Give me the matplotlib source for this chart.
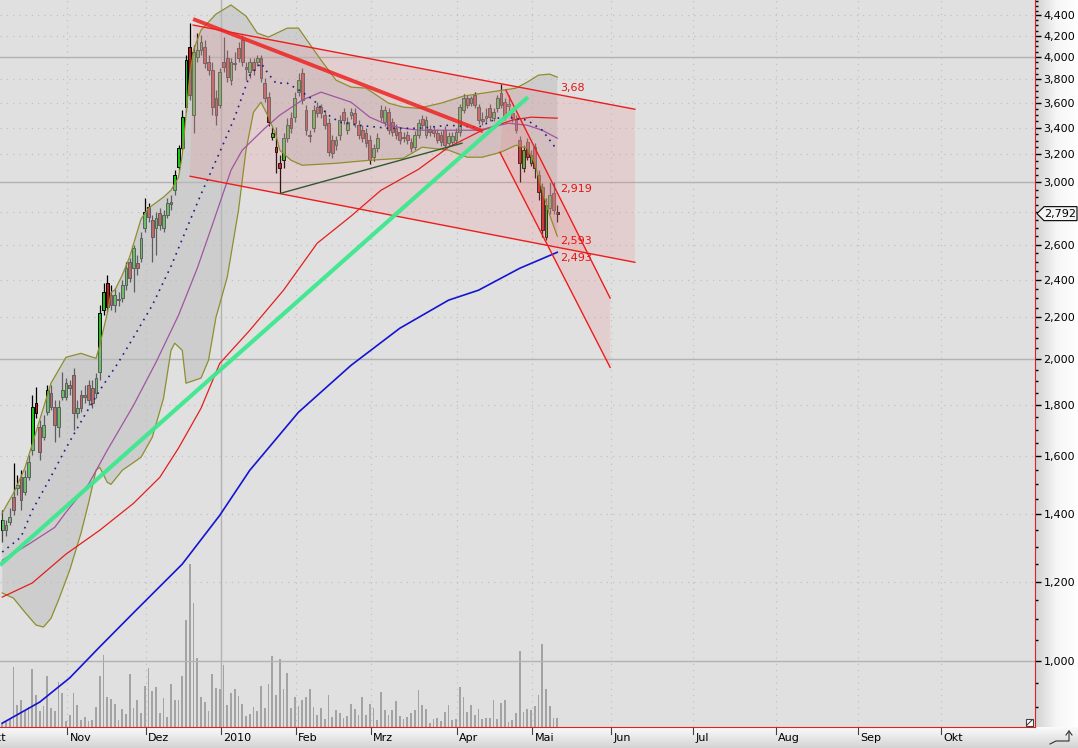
import numpy as np
import pandas as pd
import matplotlib
matplotlib.use("Agg")
import matplotlib.pyplot as plt
import matplotlib.transforms as mtransforms
from matplotlib.colors import LinearSegmentedColormap
from matplotlib.patches import Polygon, Rectangle
from matplotlib.ticker import FixedLocator, FuncFormatter, NullFormatter

# trading calendar, Xetra holidays taken out
holidays = ['2009-12-24', '2009-12-25', '2009-12-31', '2010-01-01', '2010-04-02', '2010-04-05']
first_day = '2009-10-08'
month_names = {2: 'Feb', 3: 'Mrz', 4: 'Apr', 5: 'Mai', 6: 'Jun', 7: 'Jul',
               8: 'Aug', 9: 'Sep', 10: 'Okt', 11: 'Nov', 12: 'Dez'}

# daily candles, 8 Oct 2009 .. 12 May 2010
opens = [1350, 1350, 1375, 1456, 1487, 1524, 1473, 1524, 1622, 1806,
         1710, 1671, 1770, 1848, 1790, 1710, 1832, 1832, 1883, 1927,
         1766, 1840, 1840, 1883, 1870, 1848, 1940, 2236, 2380, 2315,
         2262, 2289, 2299, 2369, 2497, 2463, 2492, 2520, 2700, 2834,
         2750, 2700, 2795, 2700, 2782, 2866, 2946, 3106, 3244, 3565,
         4092, 3500, 3999, 4064, 4092, 3954, 3881, 3640, 3581, 3954,
         3989, 3793, 3945, 4083, 4158, 3908, 3863, 3954, 3954, 3989,
         3767, 3648, 3328, 3252, 3134, 3156, 3320, 3476, 3484, 3690,
         3854, 3540, 3335, 3396, 3565, 3565, 3500, 3436, 3305, 3267,
         3343, 3524, 3381, 3500, 3516, 3420, 3381, 3358, 3305, 3178,
         3244, 3540, 3444, 3524, 3444, 3396, 3365, 3328, 3343, 3290,
         3252, 3343, 3468, 3343, 3389, 3381, 3358, 3343, 3381, 3282,
         3290, 3305, 3365, 3540, 3640, 3598, 3665, 3565, 3468, 3476,
         3556, 3476, 3556, 3682, 3606, 3573, 3516, 3460, 3305, 3098,
         3290, 3134, 3252, 3049, 2966, 2645, 2827, 2926, 2800]
highs = [1413, 1381, 1420, 1574, 1531, 1549, 1549, 1603, 1840, 1874,
         1738, 1758, 1883, 1883, 1819, 1819, 1940, 1914, 1905, 1957,
         1819, 1861, 1883, 1905, 1905, 1936, 2262, 2380, 2424, 2369,
         2353, 2331, 2396, 2497, 2520, 2597, 2538, 2676, 2893, 2859,
         2782, 2801, 2827, 2814, 2893, 2913, 3085, 3267, 3540, 4017,
         4324, 4111, 4226, 4206, 4158, 4017, 3954, 3707, 3899, 4187,
         4064, 3989, 4045, 4139, 4206, 3954, 3989, 3989, 4017, 4017,
         3811, 3690, 3404, 3404, 3193, 3358, 3476, 3524, 3690, 3854,
         3899, 3581, 3381, 3581, 3606, 3590, 3540, 3476, 3343, 3335,
         3500, 3556, 3484, 3556, 3556, 3460, 3420, 3396, 3343, 3275,
         3358, 3581, 3573, 3556, 3476, 3428, 3396, 3365, 3373, 3320,
         3373, 3468, 3500, 3492, 3420, 3412, 3389, 3373, 3412, 3365,
         3365, 3396, 3590, 3673, 3665, 3657, 3690, 3590, 3524, 3556,
         3590, 3556, 3665, 3758, 3640, 3665, 3556, 3500, 3335, 3267,
         3320, 3230, 3282, 3085, 2994, 2893, 3001, 3001, 2847]
lows = [1313, 1332, 1365, 1397, 1463, 1413, 1463, 1514, 1603, 1746,
        1585, 1660, 1758, 1778, 1652, 1671, 1819, 1819, 1840, 1698,
        1746, 1770, 1806, 1798, 1786, 1827, 1905, 2211, 2226, 2236,
        2226, 2257, 2278, 2342, 2385, 2331, 2424, 2497, 2676, 2737,
        2497, 2538, 2688, 2676, 2763, 2814, 2913, 3085, 3230, 3524,
        3623, 3358, 3954, 4017, 3899, 3837, 3500, 3420, 3556, 3863,
        3776, 3750, 3881, 3954, 3917, 3793, 3811, 3837, 3917, 3776,
        3606, 3412, 3305, 3064, 2926, 3098, 3290, 3358, 3444, 3657,
        3590, 3343, 3290, 3365, 3484, 3476, 3389, 3186, 3171, 3230,
        3305, 3428, 3350, 3468, 3404, 3312, 3290, 3252, 3127, 3149,
        3215, 3452, 3412, 3350, 3335, 3312, 3275, 3290, 3275, 3215,
        3230, 3320, 3389, 3320, 3335, 3328, 3282, 3260, 3252, 3260,
        3267, 3282, 3335, 3516, 3556, 3573, 3556, 3428, 3420, 3444,
        3452, 3452, 3524, 3556, 3460, 3524, 3444, 3358, 3001, 3071,
        3156, 3113, 3028, 2879, 2645, 2627, 2788, 2788, 2737]
closes = [1381, 1365, 1391, 1413, 1497, 1446, 1524, 1578, 1790, 1766,
          1615, 1718, 1861, 1790, 1718, 1790, 1861, 1892, 1870, 1766,
          1786, 1786, 1832, 1819, 1806, 1914, 2221, 2331, 2252, 2262,
          2315, 2295, 2369, 2463, 2407, 2579, 2463, 2639, 2801, 2769,
          2645, 2763, 2719, 2782, 2859, 2853, 3049, 3244, 3484, 3972,
          3665, 4045, 4064, 4139, 3945, 3881, 3565, 3500, 3863, 3908,
          3819, 3954, 3936, 3989, 3954, 3890, 3954, 3881, 3989, 3811,
          3640, 3444, 3358, 3215, 3098, 3320, 3420, 3396, 3640, 3793,
          3623, 3381, 3343, 3540, 3516, 3516, 3420, 3215, 3208, 3305,
          3460, 3460, 3444, 3524, 3436, 3343, 3320, 3282, 3156, 3244,
          3320, 3484, 3540, 3381, 3365, 3343, 3305, 3320, 3305, 3244,
          3343, 3436, 3420, 3460, 3365, 3358, 3305, 3290, 3267, 3335,
          3335, 3365, 3565, 3640, 3581, 3640, 3581, 3460, 3452, 3492,
          3484, 3524, 3640, 3581, 3484, 3590, 3476, 3381, 3134, 3230,
          3178, 3193, 3098, 2932, 2688, 2847, 2913, 2814, 2792]
volume = [4, 6, 8, 60, 22, 27, 17, 20, 58, 32,
          16, 21, 51, 19, 16, 45, 34, 6, 12, 34,
          22, 7, 10, 6, 7, 20, 51, 72, 30, 28,
          23, 7, 18, 13, 53, 19, 27, 14, 41, 59,
          36, 40, 14, 29, 10, 43, 27, 27, 51, 107,
          163, 124, 69, 30, 25, 16, 53, 39, 38, 62,
          22, 34, 38, 31, 23, 11, 13, 20, 16, 41,
          19, 43, 71, 32, 68, 38, 54, 19, 30, 21,
          27, 30, 38, 20, 12, 19, 8, 32, 10, 17,
          14, 9, 11, 23, 18, 12, 30, 12, 23, 19,
          7, 35, 17, 12, 17, 26, 11, 8, 10, 14,
          17, 37, 22, 18, 4, 8, 9, 6, 15, 22,
          7, 8, 40, 30, 15, 22, 12, 18, 8, 9,
          9, 27, 8, 24, 27, 5, 7, 14, 76, 15,
          18, 17, 21, 32, 83, 38, 21, 9, 9]

# Bollinger bands (bar index, price)
bb_up_idx = [0, 3, 6, 8, 13, 17, 21, 25, 26, 28, 29, 30, 32, 34, 37, 39, 43, 45, 47, 48,
             49, 50, 51, 53, 57, 61, 65, 68, 71, 76, 79, 85, 89, 93, 97, 99, 103, 107, 111, 117,
             123, 130, 137, 140, 143, 146, 148]
bb_up = [1405, 1470, 1556, 1645, 1892, 2008, 2026, 2003, 2064, 2221, 2331, 2342, 2424, 2530, 2757,
         2827, 2900, 2946, 3035, 3193, 3500, 3837, 4064, 4255, 4414, 4507, 4394, 4226, 4187, 4274,
         4274, 3972, 3793, 3733, 3724, 3682, 3598, 3565, 3556, 3598, 3657, 3690, 3724, 3776, 3837,
         3846, 3819]
bb_lo_idx = [0, 3, 6, 9, 11, 13, 15, 18, 21, 23, 25, 26, 28, 29, 32, 37, 40, 43, 45, 46,
             48, 49, 53, 55, 57, 60, 63, 65, 67, 69, 71, 73, 74, 77, 80, 89, 98, 107, 112, 119,
             124, 128, 133, 137, 140, 142, 144, 146, 148]
bb_lo = [1169, 1155, 1119, 1086, 1081, 1103, 1150, 1232, 1341, 1436, 1549, 1560, 1507, 1500, 1549,
         1596, 1671, 1827, 2040, 2074, 2040, 1892, 1914, 1994, 2201, 2413, 2814, 3230, 3524, 3606,
         3484, 3343, 3230, 3156, 3120, 3134, 3156, 3171, 3252, 3230, 3178, 3178, 3215, 3267, 3244,
         3134, 2946, 2782, 2651]

# moving averages (bar index, price)
ma_fast_idx = [0, 5, 8, 13, 17, 22, 26, 31, 35, 40, 45, 49, 53, 58, 62, 66, 69, 71, 73, 76,
               80, 83, 87, 90, 95, 103, 111, 119, 127, 132, 135, 140, 144, 148]
ma_fast = [1284, 1329, 1413, 1527, 1630, 1758, 1861, 1985, 2102, 2262, 2474, 2688, 2919, 3215,
           3484, 3837, 3945, 3846, 3767, 3767, 3690, 3623, 3500, 3444, 3420, 3396, 3396, 3420,
           3404, 3476, 3484, 3460, 3381, 3230]
ma_mid_idx = [0, 7, 14, 17, 23, 28, 35, 41, 47, 52, 56, 61, 64, 70, 74, 80, 85, 89, 93, 98,
              103, 107, 111, 127, 135, 140, 144, 148]
ma_mid = [1260, 1307, 1359, 1407, 1500, 1622, 1798, 1985, 2211, 2463, 2719, 3085, 3230, 3396,
          3500, 3623, 3690, 3648, 3606, 3484, 3420, 3396, 3381, 3381, 3436, 3420, 3381, 3320]
ma_slow_idx = [0, 8, 17, 26, 35, 42, 47, 53, 58, 66, 75, 84, 93, 101, 111, 119, 128, 136, 141, 148]
ma_slow = [1158, 1196, 1278, 1350, 1436, 1524, 1630, 1786, 1980, 2136, 2342, 2609, 2776, 2946,
           3091, 3252, 3381, 3460, 3484, 3476]
ma_long_idx = [0, 10, 18, 26, 35, 48, 58, 66, 79, 93, 106, 119, 127, 138, 148]
ma_long = [867, 910, 962, 1033, 1117, 1249, 1397, 1549, 1770, 1971, 2146, 2289, 2342, 2463, 2555]

# drawn trend lines (bar index pairs, price pairs)
chan_upper = ([50.9, 168.7], [4304, 3548])
chan_lower = ([50.1, 168.7], [3042, 2497])
steep_upper = ([134.3, 162.1], [3707, 2300])
steep_lower = ([132.7, 162.1], [3215, 1962])
peak_line = ([50.9, 128.2], [4364, 3373])
rise_line = ([-0.6, 140.2], [1246, 3648])
support_line = ([74.3, 122.6], [2926, 3282])
level_labels = ['3,68', '2,919', '2,593', '2,493']
level_values = [3680, 2919, 2593, 2493]
last_price = 2792

W, H = 1078, 748
PLOT_R, PLOT_B = 1035, 727
XLIM = (-0.6, 275.4)
YLIM = (859.4, 4559)
BG = '#e0e0e0'

cal = pd.bdate_range('2009-10-01', '2010-10-29')
cal = cal[~cal.isin(pd.to_datetime(holidays))]
cal_pos = np.arange(len(cal)) - cal.get_loc(pd.Timestamp(first_day))
months = np.asarray(cal.month)
is_first = np.r_[True, months[1:] != months[:-1]]

fig = plt.figure(figsize=(W / 100, H / 100), dpi=100)
fig.patch.set_facecolor('white')
ax_pos = [0, (H - PLOT_B) / H, PLOT_R / W, PLOT_B / H]

# gradient panels for the axis bands
ax_band = fig.add_axes([0, 0, 1, (H - PLOT_B) / H], zorder=0)
ax_band.imshow(np.linspace(0, 1, 50)[:, None], aspect='auto', extent=[0, 1, 0, 1],
               cmap=LinearSegmentedColormap.from_list('b', ['#fbfbfb', '#d4d4d4']))
ax_band.axis('off')
ax_side = fig.add_axes([PLOT_R / W, (H - PLOT_B) / H, (W - PLOT_R) / W, PLOT_B / H], zorder=0)
ax_side.imshow(np.linspace(0, 1, 50)[None, :], aspect='auto', extent=[0, 1, 0, 1],
               cmap=LinearSegmentedColormap.from_list('s', ['#d2d2d2', '#f6f6f6', '#ffffff']))
ax_side.axis('off')

# volume underneath
ax_v = fig.add_axes(ax_pos, zorder=1)
ax_v.set_facecolor(BG)
ax_v.bar(np.arange(len(volume)), volume, width=0.5, color='#a3a3a3', linewidth=0)
ax_v.set_xlim(XLIM)
ax_v.set_ylim(0, PLOT_B)
ax_v.set_xticks([])
ax_v.set_yticks([])
for s in ax_v.spines.values():
    s.set_visible(False)

ax = fig.add_axes(ax_pos, zorder=2)
ax.patch.set_visible(False)
ax.set_yscale('log')
ax.set_xlim(XLIM)
ax.set_ylim(YLIM)

# grid
for v in range(1000, 4601, 200):
    if v % 1000 == 0:
        ax.axhline(v, color='#b2b2b2', lw=1, zorder=1)
    else:
        ax.axhline(v, color='#c2c2c2', lw=0.9, ls=(0, (1, 4)), zorder=1)
blend = mtransforms.blended_transform_factory(ax.transData, ax.transAxes)
for p, d in zip(cal_pos[is_first], cal[is_first]):
    x = p + 0.3
    if d.month == 1:
        ax.axvline(x, color='#b2b2b2', lw=1, zorder=1)
        lab = str(d.year)
    else:
        ax.axvline(x, color='#c2c2c2', lw=0.9, ls=(0, (1, 4)), zorder=1)
        lab = month_names[d.month]
    ax.plot([x, x], [-0.002, -0.009], transform=blend, clip_on=False, color='#404040', lw=0.8)
    ax.text(x + 0.6, -0.0155, lab, transform=blend, clip_on=False, ha='left', va='center',
            fontsize=8, color='black')

# candles
o, h, l, c = (np.array(a, dtype=float) for a in (opens, highs, lows, closes))
idx = np.arange(len(c))
up = c >= o
ax.vlines(idx, l, h, color='black', lw=0.9, zorder=2)
bot = np.minimum(o, c)
top = np.maximum(o, c)
ax.bar(idx, np.maximum(top - bot, 1.0), bottom=bot, width=0.75,
       color=np.where(up, '#14c814', '#c81414'), edgecolor='black', linewidth=0.7, zorder=2.5)

# Bollinger band
ax.fill(np.r_[bb_up_idx, bb_lo_idx[::-1]], np.r_[bb_up, bb_lo[::-1]],
        color='#bcbcbc', alpha=0.5, lw=0, zorder=3)
ax.plot(bb_up_idx, bb_up, color='#8e8e2e', lw=0.9, zorder=4)
ax.plot(bb_lo_idx, bb_lo, color='#8e8e2e', lw=0.9, zorder=4)

# channels
for upper, lower in ((chan_upper, chan_lower), (steep_upper, steep_lower)):
    ax.fill([upper[0][0], upper[0][1], lower[0][1], lower[0][0]],
            [upper[1][0], upper[1][1], lower[1][1], lower[1][0]],
            color='#f08080', alpha=0.18, lw=0, zorder=3.5)
    ax.plot(*upper, color='#ee1c1c', lw=1, zorder=5)
    ax.plot(*lower, color='#ee1c1c', lw=1, zorder=5)

# moving averages
ax.plot(ma_long_idx, ma_long, color='#1414d2', lw=1.2, zorder=4)
ax.plot(ma_slow_idx, ma_slow, color='#e41e1e', lw=0.9, zorder=4)
ax.plot(ma_mid_idx, ma_mid, color='#a055a0', lw=0.9, zorder=4)
ax.plot(ma_fast_idx, ma_fast, color='#1c1c8c', lw=1.2, ls=(0, (1, 3)), zorder=4)

# trend lines
ax.plot(*rise_line, color='#3ee88e', lw=3.0, alpha=0.95, solid_capstyle='butt', zorder=5)
ax.plot(*peak_line, color='#ee2222', lw=2.8, alpha=0.85, solid_capstyle='butt', zorder=5)
ax.plot(*support_line, color='#2f5a2f', lw=1, zorder=5)

for s, v in zip(level_labels, level_values):
    ax.text(148.8, v, s, color='#e41414', fontsize=8, ha='left', va='bottom', zorder=6)

# axes frame and price scale
for k in ('top', 'left'):
    ax.spines[k].set_visible(False)
ax.spines['right'].set_color('#e02020')
ax.spines['bottom'].set_color('#e02020')
ax.set_xticks([])
ax.yaxis.tick_right()
ax.yaxis.set_major_locator(FixedLocator([v for v in range(1000, 4601, 200) if v != 2800]))
ax.yaxis.set_major_formatter(FuncFormatter(lambda v, p: f"{v:,.0f}"))
ax.yaxis.set_minor_locator(FixedLocator(list(range(900, 4651, 50))))
ax.yaxis.set_minor_formatter(NullFormatter())
ax.tick_params(axis='y', which='major', direction='out', length=4, width=1, pad=2,
               labelsize=8, colors='black')
ax.tick_params(axis='y', which='minor', direction='out', length=2, width=1, colors='black')

# last price marker
ident = mtransforms.IdentityTransform()
yp = ax.transData.transform((0, last_price))[1]
fig.add_artist(Polygon([(1037, yp), (1044, yp + 7), (1077, yp + 7), (1077, yp - 7), (1044, yp - 7)],
                       closed=True, transform=ident, facecolor='#f4f4f4', edgecolor='black', lw=0.8,
                       zorder=10))
fig.text(1060, yp, f"{last_price:,}", transform=ident, ha='center', va='center', fontsize=8,
         zorder=11)

# small corner icons
fig.add_artist(Rectangle((1026, 22), 7, 7, transform=ident, facecolor='white',
                         edgecolor='#404040', lw=0.8, zorder=10))
fig.add_artist(plt.Line2D([1027, 1032], [23, 28], transform=ident, color='#404040', lw=0.8,
                          zorder=11))
fig.add_artist(plt.Line2D([1050, 1056, 1069, 1069], [4, 7, 7, 17], transform=ident,
                          color='#303030', lw=0.8, zorder=11))
fig.add_artist(plt.Line2D([1066, 1069, 1072], [13, 17, 13], transform=ident,
                          color='#303030', lw=0.8, zorder=11))

fig.savefig('out.png', dpi=100)
